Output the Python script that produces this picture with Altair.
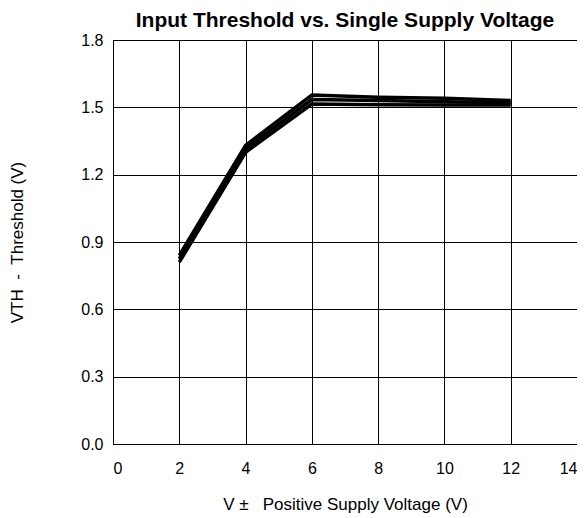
import altair as alt
import pandas as pd

supply_v = [2, 4, 6, 8, 10, 12]
series_names = ["A", "B", "C"]
thr_a = [0.84, 1.33, 1.555, 1.545, 1.54, 1.53]
thr_b = [0.825, 1.315, 1.535, 1.53, 1.525, 1.52]
thr_c = [0.81, 1.30, 1.515, 1.512, 1.51, 1.51]

rows = []
for name, vals in zip(series_names, [thr_a, thr_b, thr_c]):
    for x, y in zip(supply_v, vals):
        rows.append({"series": name, "v": x, "th": y})
df = pd.DataFrame(rows)

x_ticks = [0, 2, 4, 6, 8, 10, 12, 14]
y_ticks = [0.0, 0.3, 0.6, 0.9, 1.2, 1.5, 1.8]

font = "Liberation Sans"
nb = "\u00a0"

chart = alt.Chart(df).mark_line(color="black", strokeWidth=3.5).encode(
    x=alt.X("v:Q", scale=alt.Scale(domain=[0, 14], nice=False),
            axis=alt.Axis(values=x_ticks,
                          title=f"V{nb}±{nb}{nb}{nb}Positive Supply Voltage (V)",
                          labelPadding=16, titlePadding=20, format="d")),
    y=alt.Y("th:Q", scale=alt.Scale(domain=[0, 1.8], nice=False),
            axis=alt.Axis(values=y_ticks, title=f"VTH{nb}{nb}-{nb}{nb}Threshold (V)", format=".1f",
                          labelPadding=10, titlePadding=54)),
    detail="series:N",
).properties(
    width=464, height=404,
    padding={"left": 0, "top": 2, "right": 0, "bottom": 3},
    title=alt.TitleParams("Input Threshold vs. Single Supply Voltage", fontSize=21,
                          font=font, fontWeight="bold", color="black", offset=1),
).configure_axis(
    grid=True, gridColor="black", gridOpacity=1, gridWidth=1,
    domainColor="black", domainWidth=1, ticks=False,
    labelFont=font, labelFontSize=16, labelColor="black",
    titleFont=font, titleFontSize=17, titleFontWeight="normal", titleColor="black",
).configure_view(stroke="black", strokeWidth=1)

chart.save("out.html", embed_options={"renderer": "svg", "actions": False})
